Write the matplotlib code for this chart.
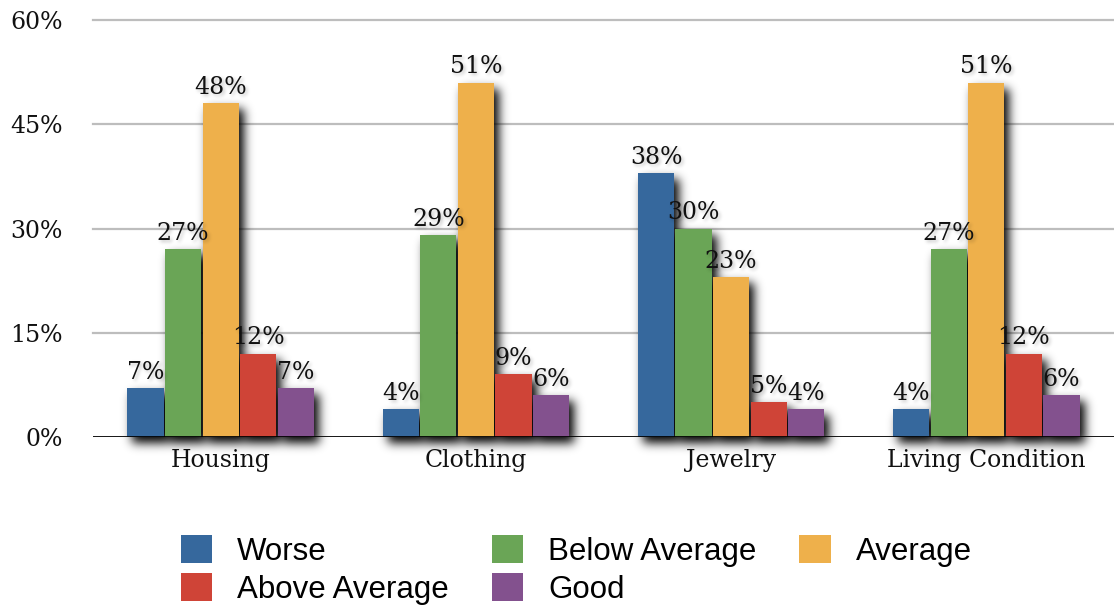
import numpy as np
import matplotlib
matplotlib.use("Agg")
import matplotlib.pyplot as plt
from matplotlib.patches import Rectangle
from matplotlib.collections import PatchCollection

# ---- data -------------------------------------------------------------
categories = ["Housing", "Clothing", "Jewelry", "Living Condition"]
series = ["Worse", "Below Average", "Average", "Above Average", "Good"]
worse = [7, 4, 38, 4]
below_average = [27, 29, 30, 27]
average = [48, 51, 23, 51]
above_average = [12, 9, 5, 12]
good = [7, 6, 4, 6]
values = [worse, below_average, average, above_average, good]
colors = ["#36689D", "#6AA556", "#EEB04B", "#CF4437", "#83518E"]
y_ticks = [0, 15, 30, 45, 60]


# ---- blurred drop-shadow filter for agg --------------------------------
def gaussian_blur(a, sigma):
    r = max(1, int(3 * sigma))
    x = np.arange(-r, r + 1)
    k = np.exp(-0.5 * (x / sigma) ** 2)
    k /= k.sum()
    a = np.apply_along_axis(lambda v: np.convolve(v, k, mode="same"), 0, a)
    a = np.apply_along_axis(lambda v: np.convolve(v, k, mode="same"), 1, a)
    return a


class DropShadow:
    def __init__(self, sigma, alpha, offset):
        self.sigma = sigma
        self.alpha = alpha
        self.offset = offset

    def __call__(self, im, dpi):
        pad = int(3 * self.sigma + max(abs(o) for o in self.offset)) + 2
        src = np.pad(im, [(pad, pad), (pad, pad), (0, 0)], "constant")
        out = np.zeros_like(src)
        alpha = gaussian_blur(src[:, :, 3] * self.alpha, self.sigma)
        ox, oy = self.offset
        alpha = np.roll(alpha, ox, axis=1)
        alpha = np.roll(alpha, oy, axis=0)
        out[:, :, 3] = np.clip(alpha, 0, 1)
        return out, -pad, -pad


# ---- figure -----------------------------------------------------------
fig = plt.figure(figsize=(11.14, 6.08), dpi=100)
ax = fig.add_axes([93 / 1114, 171 / 608, 1 - 93 / 1114, (437 - 20) / 608])

serif = ["DejaVu Serif"]
n = len(series)
step = 0.147
width = 0.142
x = np.arange(len(categories))

# shadows behind the bars
shadow_rects = []
for i, vals in enumerate(values):
    pos = x + (i - (n - 1) / 2) * step
    for p, v in zip(pos, vals):
        shadow_rects.append(Rectangle((p - width / 2, 0), width, v))
shadow = PatchCollection(shadow_rects, facecolor="black", edgecolor="none",
                         zorder=2.5, clip_on=False)
shadow.set_agg_filter(DropShadow(sigma=5.0, alpha=1.0, offset=(5, 6)))
shadow.set_rasterized(True)
ax.add_collection(shadow)

handles = []
for i, (name, vals, c) in enumerate(zip(series, values, colors)):
    pos = x + (i - (n - 1) / 2) * step
    bars = ax.bar(pos, vals, width=width, color=c, label=name, zorder=3,
                  edgecolor="none")
    handles.append(bars)
    for p, v in zip(pos, vals):
        for shadow_pass in (True, False):
            t = ax.annotate(f"{v}%", (p, v), xytext=(0, 3),
                            textcoords="offset points", ha="center",
                            va="bottom", fontsize=17, family=serif,
                            color="#111111", zorder=4)
            if shadow_pass:
                t.set_agg_filter(DropShadow(sigma=1.3, alpha=0.5,
                                            offset=(1, 1)))
                t.set_rasterized(True)

ax.set_xlim(-0.5, 3.5)
ax.set_ylim(0, 60)
ax.set_yticks(y_ticks)
ax.set_yticklabels([f"{t}%" for t in y_ticks], family=serif, fontsize=17)
ax.set_xticks(x)
ax.set_xticklabels(categories, family=serif, fontsize=17)
ax.tick_params(axis="y", length=0, pad=22, colors="#111111")
ax.tick_params(axis="x", length=0, pad=9, colors="#111111")

for t in y_ticks[1:]:
    ax.axhline(t, color="#BDBDBD", lw=1.6, zorder=1, clip_on=False)
ax.axhline(0, color="black", lw=2.0, zorder=5)
for s in ax.spines.values():
    s.set_visible(False)

# legend laid out row by row
order = [0, 3, 1, 4, 2]
fig.legend([handles[k] for k in order], [series[k] for k in order],
           ncol=3, loc="upper left", bbox_to_anchor=(181 / 1114, 1 - 535 / 608),
           frameon=False, prop={"family": "Liberation Sans", "size": 22.5},
           handlelength=1.0, handleheight=1.0, handletextpad=0.8,
           columnspacing=1.37, labelspacing=0.2, borderpad=0, borderaxespad=0)

fig.savefig("out.png", dpi=100)
